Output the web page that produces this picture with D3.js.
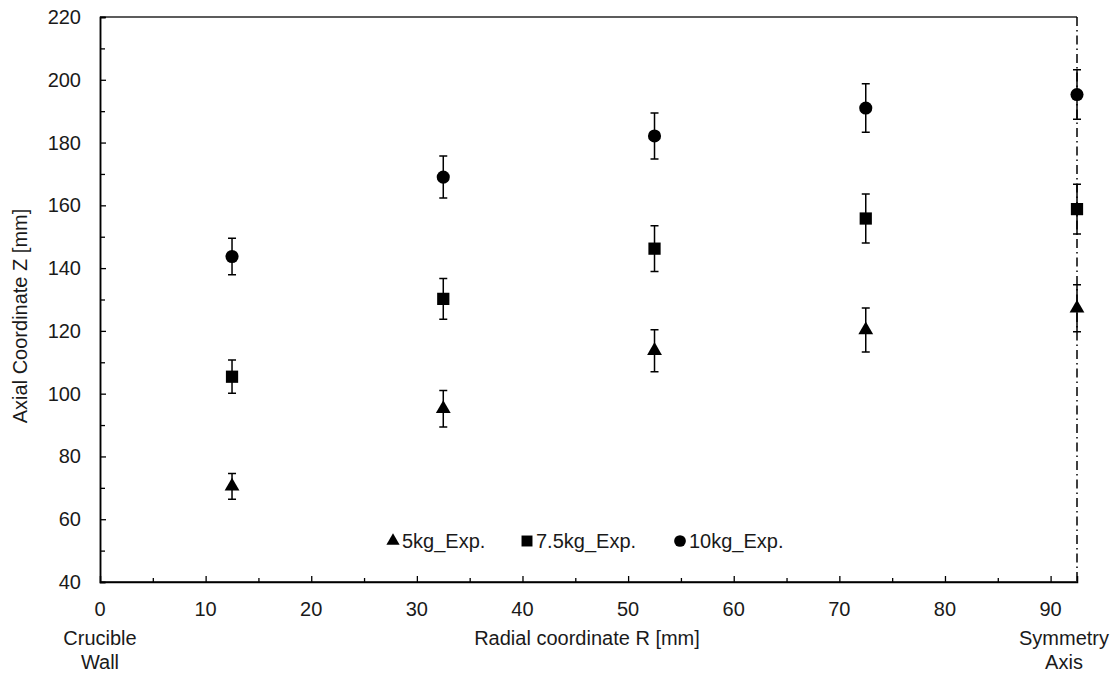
<!DOCTYPE html>
<html>
<head>
<meta charset="utf-8">
<script src="https://cdn.jsdelivr.net/npm/d3@7"></script>
<style>
  body { margin: 0; background: #fff; }
  text { font-family: "Liberation Sans", Arial, sans-serif; fill: #1a1a1a; }
</style>
</head>
<body>
<div id="chart"></div>
<script>
// radial positions of the measurement columns [mm]
var radial = [12.5, 32.5, 52.5, 72.5, 92.5];

// axial position of the interface [mm] and its error
var z5kg = [70.5, 95.2, 113.7, 120.3, 127.2];
var err5kg = [4.1, 5.8, 6.7, 7.0, 7.5];
var z75kg = [105.4, 130.2, 146.2, 155.8, 158.8];
var err75kg = [5.3, 6.5, 7.3, 7.8, 7.9];
var z10kg = [143.7, 169.0, 182.1, 191.0, 195.3];
var err10kg = [5.8, 6.7, 7.3, 7.7, 7.9];

var seriesNames = ["5kg_Exp.", "7.5kg_Exp.", "10kg_Exp."];
var xTicks = [0, 10, 20, 30, 40, 50, 60, 70, 80, 90];
var yTicks = [40, 60, 80, 100, 120, 140, 160, 180, 200, 220];

var width = 1115,
  height = 675;

var svg = d3
  .select("#chart")
  .append("svg")
  .attr("width", width)
  .attr("height", height);

var x = d3.scaleLinear().domain([0, 92.5]).range([100, 1077]);
var y = d3.scaleLinear().domain([40, 220]).range([582, 17]);

var series = [
  { name: seriesNames[0], z: z5kg, err: err5kg, symbol: d3.symbolTriangle, size: 95 },
  { name: seriesNames[1], z: z75kg, err: err75kg, symbol: d3.symbolSquare, size: 150 },
  { name: seriesNames[2], z: z10kg, err: err10kg, symbol: d3.symbolCircle, size: 135 },
];

// top border of the plot area
svg
  .append("line")
  .attr("x1", x(0))
  .attr("x2", x(92.5))
  .attr("y1", y(220))
  .attr("y2", y(220))
  .attr("stroke", "#262626")
  .attr("stroke-width", 1.5);

// symmetry axis, dash-dot
svg
  .append("line")
  .attr("x1", x(92.5))
  .attr("x2", x(92.5))
  .attr("y1", y(220))
  .attr("y2", y(40))
  .attr("stroke", "#000")
  .attr("stroke-width", 1.5)
  .attr("stroke-dasharray", "9,4,1.5,4");

// x axis, ticks pointing inward
var xAxis = svg
  .append("g")
  .attr("transform", "translate(0," + y(40) + ")")
  .call(
    d3.axisTop(x)
      .tickValues(d3.range(5, 90, 10))
      .tickSize(4)
      .tickFormat("")
  );
svg
  .append("g")
  .attr("transform", "translate(0," + y(40) + ")")
  .call(d3.axisTop(x).tickValues(xTicks.slice(1)).tickSize(6).tickFormat(""));
xAxis.select(".domain").attr("d", "M" + x(0) + ",0H" + x(92.5));

svg
  .selectAll(".xlab")
  .data(xTicks)
  .enter()
  .append("text")
  .attr("class", "xlab")
  .attr("x", (d) => x(d))
  .attr("y", y(40) + 34)
  .attr("text-anchor", "middle")
  .style("font-size", "20px")
  .text((d) => d);

// y axis, ticks pointing inward
var yAxis = svg
  .append("g")
  .attr("transform", "translate(" + x(0) + ",0)")
  .call(
    d3.axisRight(y)
      .tickValues(d3.range(50, 220, 20))
      .tickSize(5)
      .tickFormat("")
  );
svg
  .append("g")
  .attr("transform", "translate(" + x(0) + ",0)")
  .call(d3.axisRight(y).tickValues(yTicks.slice(1)).tickSize(6).tickFormat(""));

svg.selectAll(".domain").attr("stroke", "#000").attr("stroke-width", 1.5);
svg.selectAll(".tick line").attr("stroke", "#000").attr("stroke-width", 1.3);
svg.selectAll(".tick text").remove();

svg
  .selectAll(".ylab")
  .data(yTicks)
  .enter()
  .append("text")
  .attr("class", "ylab")
  .attr("x", 81)
  .attr("y", (d) => y(d) + 7)
  .attr("text-anchor", "end")
  .style("font-size", "20px")
  .text((d) => d);

// axis titles
svg
  .append("text")
  .attr("x", 587)
  .attr("y", 645)
  .attr("text-anchor", "middle")
  .style("font-size", "20px")
  .text("Radial coordinate R [mm]");

svg
  .append("text")
  .attr("transform", "translate(27,316) rotate(-90)")
  .attr("text-anchor", "middle")
  .style("font-size", "20px")
  .text("Axial Coordinate Z [mm]");

var sideLabels = [
  { x: 100, lines: ["Crucible", "Wall"] },
  { x: 1064, lines: ["Symmetry", "Axis"] },
];
sideLabels.forEach(function (s) {
  s.lines.forEach(function (l, i) {
    svg
      .append("text")
      .attr("x", s.x)
      .attr("y", 645 + i * 24)
      .attr("text-anchor", "middle")
      .style("font-size", "20px")
      .text(l);
  });
});

// error bars and markers
var capW = 4;
series.forEach(function (s) {
  var g = svg.append("g");
  var pts = radial.map((r, i) => ({ r: r, z: s.z[i], e: s.err[i] }));

  g.selectAll("path.err")
    .data(pts)
    .enter()
    .append("path")
    .attr("class", "err")
    .attr("d", (d) => {
      var cx = x(d.r),
        t = y(d.z + d.e),
        b = y(d.z - d.e);
      return (
        "M" + (cx - capW) + "," + t + "H" + (cx + capW) +
        "M" + cx + "," + t + "V" + b +
        "M" + (cx - capW) + "," + b + "H" + (cx + capW)
      );
    })
    .attr("stroke", "#000")
    .attr("stroke-width", 1.5)
    .attr("fill", "none");

  g.selectAll("path.mark")
    .data(pts)
    .enter()
    .append("path")
    .attr("class", "mark")
    .attr("d", d3.symbol().type(s.symbol).size(s.size))
    .attr("transform", (d) => "translate(" + x(d.r) + "," + y(d.z) + ")")
    .attr("fill", "#000");
});

// legend
var legendX = [393, 527, 680];
series.forEach(function (s, i) {
  svg
    .append("path")
    .attr("d", d3.symbol().type(s.symbol).size(s.size * 0.8))
    .attr("transform", "translate(" + legendX[i] + ",541)")
    .attr("fill", "#000");
  svg
    .append("text")
    .attr("x", legendX[i] + 9)
    .attr("y", 548)
    .style("font-size", "20px")
    .text(s.name);
});
</script>
</body>
</html>
